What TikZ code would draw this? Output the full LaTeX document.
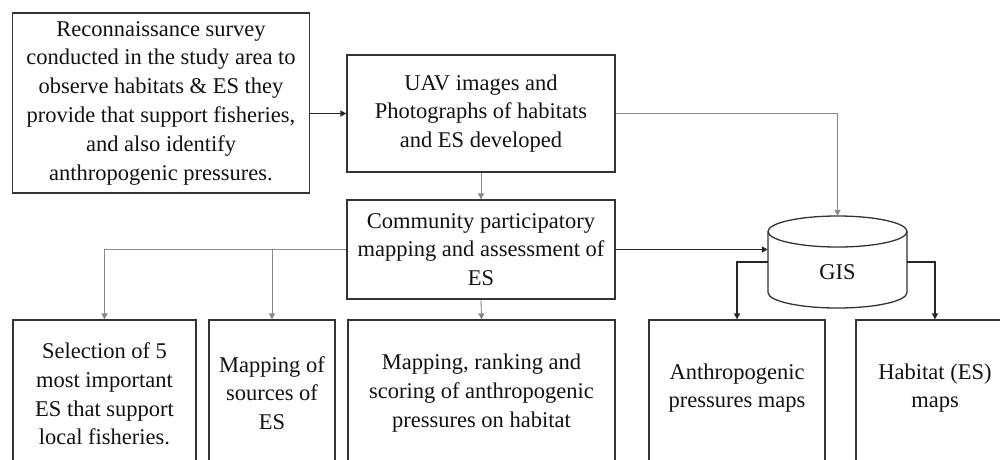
\documentclass[tikz,border=0pt]{standalone}
\usepackage{fontspec}
\setmainfont{Liberation Serif}
\usetikzlibrary{arrows.meta}
\definecolor{boxc}{HTML}{333333}
\definecolor{txtc}{HTML}{111111}
\definecolor{thinc}{HTML}{888888}
\begin{document}
\begin{tikzpicture}[x=1pt,y=-1pt,
  box/.style={draw=boxc, line width=1.3pt, inner sep=0pt, align=center, text=txtc, font=\fontsize{22.5}{28.8}\selectfont},
  txt/.style={inner sep=0pt, align=center, text=txtc, font=\fontsize{22.5}{28.8}\selectfont},
  thinarrow/.style={draw=thinc, line width=0.9pt, -{Triangle[length=6pt,width=6pt]}},
  thickarrow/.style={draw=black!85, line width=1.6pt, -{Triangle[length=6pt,width=6pt]}},
  cyl/.style={draw=boxc, line width=1.3pt},
]
\useasboundingbox (0,0) rectangle (1000,459);
\clip (0,0) rectangle (1000,459);

% top boxes
\node[box, minimum width=297pt, minimum height=180pt] (A) at (161,103)
  {Reconnaissance survey\\conducted in the study area to\\observe habitats \& ES they\\provide that support fisheries,\\and also identify\\anthropogenic pressures.};
\node[box, minimum width=268pt, minimum height=117pt] (B) at (481,113.5)
  {UAV images and\\Photographs of habitats\\and ES developed};
\node[box, minimum width=268pt, minimum height=99pt] (C) at (481,249.5)
  {Community participatory\\mapping and assessment of\\ES};

% GIS cylinder
\node[minimum width=139pt, minimum height=92pt, inner sep=0pt] (gis) at (837.5,262) {};
\draw[cyl, fill=white] (768,231.5) -- (768,292.5)
  arc[start angle=180, end angle=360, x radius=69.5pt, y radius=15.5pt] -- (907,231.5);
\draw[cyl] (837.5,231.5) ellipse [x radius=69.5pt, y radius=15.5pt];
\node[txt] (gist) at (837.5,272) {GIS};

% bottom boxes (cut by the lower edge)
\node[box, minimum width=183pt, minimum height=150pt] (F) at (104.5,395) {};
\node[box, minimum width=126pt, minimum height=150pt] (G) at (272,395) {};
\node[box, minimum width=267pt, minimum height=150pt] (H) at (481.5,395) {};
\node[box, minimum width=176pt, minimum height=150pt] (D) at (737,395) {};
\node[box, minimum width=158pt, minimum height=150pt] (E) at (935,395) {};

\node[txt] (Ft) at (104.5,394) {Selection of 5\\most important\\ES that support\\local fisheries.};
\node[txt] (Gt) at (272,393) {Mapping of\\sources of\\ES};
\node[txt] (Ht) at (481.5,393) {Mapping, ranking and\\scoring of anthropogenic\\pressures on habitat};
\node[txt] (Dt) at (737,388) {Anthropogenic\\pressures maps};
\node[txt] (Et) at (935,388) {Habitat (ES)\\maps};

% connectors
\draw[thickarrow] (A.east |- B.west) -- (B.west);
\draw[thinarrow] (B.south) -- (C.north);
\draw[thinarrow] (B.east) -| (gis.north);
\draw[thickarrow] (C.east) -- (C.east -| gis.west);
\draw[thinarrow] (C.west) -| (F.north);
\draw[thinarrow] (C.west -| G.north) -- (G.north);
\draw[thinarrow] (C.south) -- (H.north);
\draw[thickarrow] (gis.west) -| (D.north);
\draw[thickarrow] (gis.east) -| (E.north);
\end{tikzpicture}
\end{document}
